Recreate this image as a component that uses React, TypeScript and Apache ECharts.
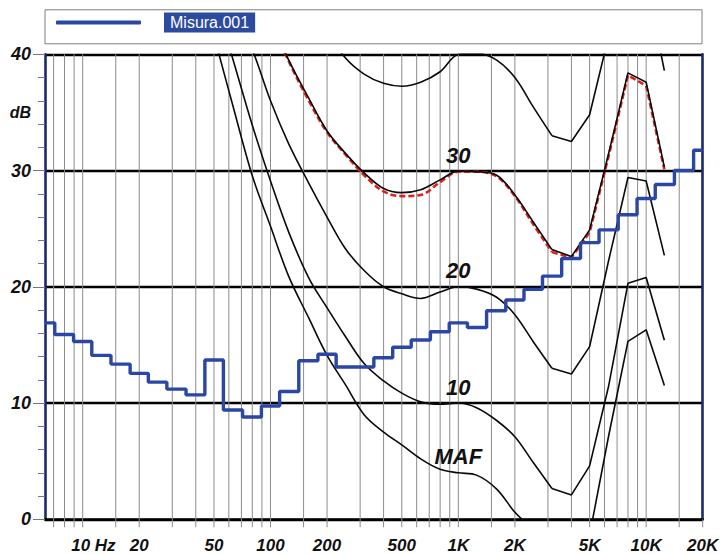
import React, { useEffect, useRef } from 'react';
import * as echarts from 'echarts';

const FONT = "'Liberation Sans', Arial, Helvetica, sans-serif";

// Third-octave band centres and measured levels (dB) of "Misura.001"
const bandFreqs = [6.3, 8, 10, 12.5, 16, 20, 25, 31.5, 40, 50, 63, 80, 100, 125, 160, 200, 250, 315, 400, 500, 630, 800, 1000, 1250, 1600, 2000, 2500, 3150, 4000, 5000, 6300, 8000, 10000, 12500, 16000, 20000];
const misuraLevels = [16.9, 15.9, 15.3, 14.1, 13.35, 12.55, 11.8, 11.2, 10.7, 13.7, 9.4, 8.8, 9.75, 11.0, 13.64, 14.2, 13.1, 13.1, 13.9, 14.8, 15.42, 16.13, 16.9, 16.5, 17.94, 18.86, 19.78, 20.92, 22.44, 23.8, 24.9, 26.2, 27.6, 28.8, 30.0, 31.75];

// Equal-loudness contours
const contourFreqs = [50, 63, 80, 100, 125, 160, 200, 250, 315, 400, 500, 630, 800, 1000, 1250, 1600, 2000, 2500, 3150, 4000, 5000, 6300, 8000, 10000, 12500];
const maf = [41.6, 35.6, 29.55, 25.2, 20.9, 17.3, 14.1, 11.6, 9.0, 7.5, 6.4, 5.2, 4.3, 4.0, 3.8, 2.6, 0.6, -1.0, -4, -5, -1.35, 7.1, 15.3, 16.3, 11.5];
const phon10 = [45, 39.6, 33.9, 29.1, 24.7, 20.75, 18.2, 15.75, 13.4, 11.9, 10.85, 10.1, 9.9, 10.0, 9.6, 8.5, 7.1, 4.9, 2.65, 2.1, 4.6, 11.4, 20.3, 20.8, 15.4];
const phon20 = [null, 44, 40.4, 36.0, 32.3, 28.9, 26.0, 23.3, 21.4, 20.0, 19.4, 19.0, 19.55, 20.0, 19.8, 19.1, 17.6, 15.3, 13.0, 12.5, 14.85, 22.2, 29.4, 29.1, 22.7];
const phon30 = [null, null, null, 43, 39.5, 36.2, 33.4, 31.5, 29.8, 28.45, 28.1, 28.35, 29.2, 29.95, 29.9, 29.6, 27.9, 25.6, 23.2, 22.6, 24.9, 31.4, 38.4, 37.6, 30.3];
const phon40 = [null, null, null, null, null, null, 42, 39.7, 38.3, 37.5, 37.25, 37.6, 38.5, 40.0, 40.1, 39.5, 38.0, 35.5, 33.0, 32.5, 34.8, 41.5, 47, 46.3, 38.6];
const measured30 = [null, null, null, 43, 39.4, 36.0, 33.3, 31.4, 29.6, 28.2, 27.8, 27.9, 29.0, 29.9, 29.9, 29.5, 27.8, 25.4, 23.0, 22.5, 24.7, 31.2, 38.2, 37.3, 30.1];

const contourNames = ['MAF', '10', '20', '30', ''];
const contourValues = [maf, phon10, phon20, phon30, phon40];
// contours are smooth up to this frequency, straight segments above it
const smoothLimit = 3150;

// Axis
const gridFreqs = [7, 8, 9, 10, 15, 20, 30, 40, 50, 60, 70, 80, 90, 100, 150, 200, 300, 400, 500, 600, 700, 800, 900, 1000, 1500, 2000, 3000, 4000, 5000, 6000, 7000, 8000, 9000, 10000, 15000, 20000];
const tickLabelFreqs = [10, 20, 50, 100, 200, 500, 1000, 2000, 5000, 10000, 20000];
const tickLabels = ['10 Hz', '20', '50', '100', '200', '500', '1K', '2K', '5K', '10K', '20K'];
const yLabelValues = [0, 10, 20, 30, 35, 40];

const toPairs = (xs: number[], ys: (number | null)[]) =>
  xs.map((x, i) => [x, ys[i]] as [number, number | null]).filter((p) => p[1] !== null);

export default function App() {
  const ref = useRef<HTMLDivElement>(null);

  useEffect(() => {
    if (!ref.current) return;
    const chart = echarts.init(ref.current, undefined, { renderer: 'svg' });
    const idx1K = contourFreqs.indexOf(1000);
    const labelFont = { fontSize: 17, fontWeight: 'bold', fontStyle: 'italic', fontFamily: FONT, fill: '#111' };

    const splitCurve = (vals: (number | null)[], style: any, z: number, markPoint?: any) => {
      const pairs = toPairs(contourFreqs, vals);
      const smoothPart = pairs.filter((p) => p[0] <= smoothLimit);
      const straightPart = pairs.filter((p) => p[0] >= smoothLimit);
      return [
        { type: 'line', data: smoothPart, symbol: 'none', smooth: 0.35, silent: true, z, lineStyle: style, markPoint },
        { type: 'line', data: straightPart, symbol: 'none', smooth: false, silent: true, z, lineStyle: style },
      ];
    };

    const contourSeries: any[] = [];
    contourValues.forEach((vals, k) => {
      const mp = contourNames[k]
        ? {
            silent: true,
            symbol: 'rect',
            symbolSize: 1,
            itemStyle: { color: 'rgba(0,0,0,0)' },
            label: {
              show: true,
              position: 'inside',
              offset: [0, -16],
              formatter: contourNames[k],
              fontSize: 22,
              fontWeight: 'bold',
              fontStyle: 'italic',
              fontFamily: FONT,
              color: '#111',
            },
            data: [{ coord: [1000, vals[idx1K]] }],
          }
        : undefined;
      contourSeries.push(...splitCurve(vals, { color: '#0a0a0a', width: 1.6 }, 4, mp));
    });

    chart.setOption({
      animation: false,
      backgroundColor: '#fff',
      textStyle: { fontFamily: FONT },
      grid: { left: 45, right: 17.3, top: 54.3, bottom: 34.7 },
      graphic: [
        {
          type: 'rect',
          left: 44.5,
          top: 9.3,
          z: 0,
          shape: { width: 657, height: 34 },
          style: { fill: '#fff', stroke: '#7f7f7f', lineWidth: 1 },
        },
      ],
      legend: {
        data: ['Misura.001'],
        left: 56,
        top: 12.5,
        padding: 0,
        itemWidth: 85,
        itemHeight: 4,
        icon: 'roundRect',
        selectedMode: false,
        formatter: (n: string) => `{s|}{t|${n}}`,
        textStyle: {
          rich: {
            s: { width: 18 },
            t: {
              color: '#fff',
              backgroundColor: '#2d4b9e',
              padding: [2, 6, 2, 6],
              fontSize: 16,
              lineHeight: 14,
              fontFamily: FONT,
            },
          },
        },
      },
      xAxis: {
        type: 'log',
        logBase: 10,
        min: 6.3,
        max: 20000,
        axisLine: { show: true, onZero: false, lineStyle: { color: '#000', width: 2.5 } },
        axisTick: { show: false },
        axisLabel: { show: false },
        splitLine: { show: false },
      },
      yAxis: [
        {
          type: 'value',
          min: 0,
          max: 40,
          interval: 10,
          axisLine: { show: true, lineStyle: { color: '#1b2a6b', width: 2.6 } },
          axisTick: { show: true, length: 12, lineStyle: { color: '#777', width: 1 } },
          minorTick: { show: true, splitNumber: 5, length: 7, lineStyle: { color: '#777', width: 1 } },
          splitLine: { show: true, lineStyle: { color: '#000', width: 2.3 } },
          axisLabel: {
            customValues: yLabelValues,
            margin: 14,
            fontSize: 18,
            fontWeight: 'bold',
            fontStyle: 'italic',
            fontFamily: FONT,
            color: '#111',
            formatter: (v: number) => (v === 35 ? '{d|dB}' : String(v)),
            rich: { d: { fontSize: 16, fontWeight: 'bold', fontStyle: 'italic', fontFamily: FONT, color: '#111' } },
          },
        },
        {
          type: 'value',
          position: 'right',
          min: 0,
          max: 40,
          interval: 10,
          axisLine: { show: true, lineStyle: { color: '#1b2a6b', width: 2.6 } },
          axisTick: { show: false },
          axisLabel: { show: false },
          splitLine: { show: false },
        },
      ],
      series: [
        {
          type: 'custom',
          silent: true,
          z: 1,
          data: gridFreqs.map((f) => [f, 0]),
          encode: { x: 0, y: 1 },
          renderItem: (params: any, api: any) => {
            const f = api.value(0);
            const top = api.coord([f, 40]);
            const bot = api.coord([f, 0]);
            const border = f >= 20000;
            return {
              type: 'line',
              shape: { x1: top[0], y1: border ? bot[1] : top[1], x2: bot[0], y2: bot[1] + 8 },
              style: { stroke: '#8c8c8c', lineWidth: 1 },
            };
          },
        },
        {
          type: 'custom',
          silent: true,
          z: 1,
          data: tickLabelFreqs.map((f) => [f, 0]),
          encode: { x: 0, y: 1 },
          renderItem: (params: any, api: any) => {
            const f = api.value(0);
            const p = api.coord([f, 0]);
            const label = tickLabels[params.dataIndex];
            const y = p[1] + 26;
            if (label.endsWith(' Hz')) {
              return {
                type: 'group',
                children: [
                  { type: 'text', x: p[0] - 2, y, style: { ...labelFont, text: label.split(' ')[0], align: 'center', verticalAlign: 'middle' } },
                  { type: 'text', x: p[0] + 12, y, style: { ...labelFont, text: 'Hz', align: 'left', verticalAlign: 'middle' } },
                ],
              };
            }
            return { type: 'text', x: p[0], y, style: { ...labelFont, text: label, align: 'center', verticalAlign: 'middle' } };
          },
        },
        ...splitCurve(measured30, { color: '#e0201c', width: 2.6, type: [6, 3] }, 3),
        ...contourSeries,
        {
          name: 'Misura.001',
          type: 'line',
          step: 'middle',
          data: toPairs(bandFreqs, misuraLevels),
          symbol: 'none',
          z: 5,
          color: '#2b47a6',
          itemStyle: { color: '#2b47a6' },
          lineStyle: { color: '#2b47a6', width: 3.4 },
        },
      ],
    } as any);

    return () => chart.dispose();
  }, []);

  return (
    <div
      ref={ref}
      style={{ position: 'absolute', left: 0, top: 0, width: 720, height: 554 }}
    />
  );
}
